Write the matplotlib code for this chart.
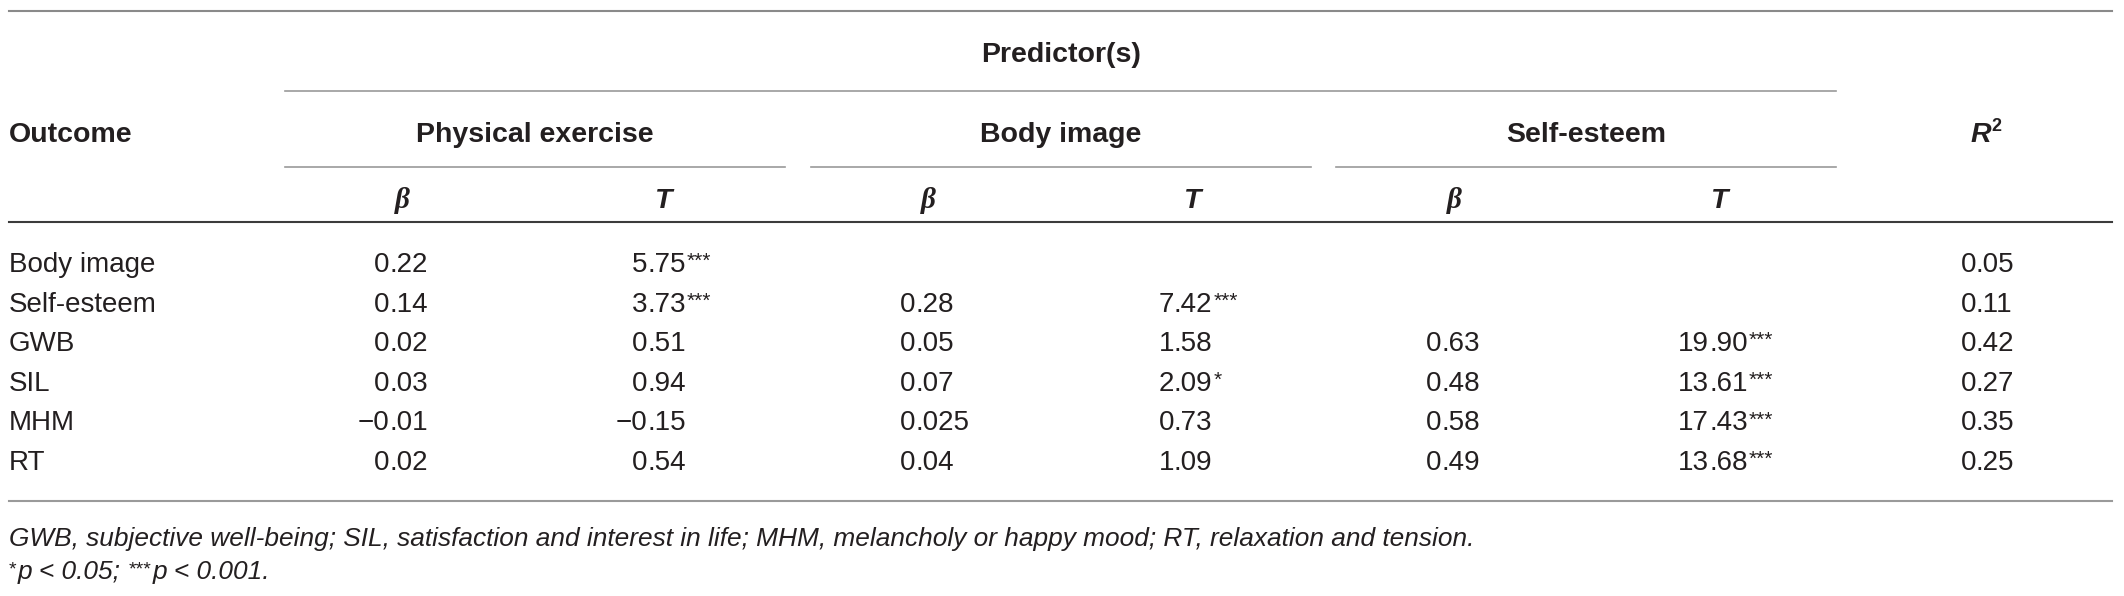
import matplotlib
matplotlib.use("Agg")
import matplotlib.pyplot as plt

# table contents
outcomes = ["Body image", "Self-esteem", "GWB", "SIL", "MHM", "RT"]
groups = ["Physical exercise", "Body image", "Self-esteem"]

pe_beta = [0.22, 0.14, 0.02, 0.03, -0.01, 0.02]
pe_t = [5.75, 3.73, 0.51, 0.94, -0.15, 0.54]
pe_t_sig = ["***", "***", "", "", "", ""]

bi_beta = [None, 0.28, 0.05, 0.07, 0.025, 0.04]
bi_t = [None, 7.42, 1.58, 2.09, 0.73, 1.09]
bi_t_sig = ["", "***", "", "*", "", ""]

se_beta = [None, None, 0.63, 0.48, 0.58, 0.49]
se_t = [None, None, 19.90, 13.61, 17.43, 13.68]
se_t_sig = ["", "", "***", "***", "***", "***"]

r2 = [0.05, 0.11, 0.42, 0.27, 0.35, 0.25]

note1 = ("GWB, subjective well-being; SIL, satisfaction and interest in life; "
         "MHM, melancholy or happy mood; RT, relaxation and tension.")

INK = "#231f20"
SANS = "Liberation Sans"
W, H = 2124, 596

fig = plt.figure(figsize=(W / 100, H / 100), dpi=100)
ax = fig.add_axes([0, 0, 1, 1])
ax.set_xlim(0, W)
ax.set_ylim(H, 0)
ax.axis("off")
rend = fig.canvas.get_renderer()


def width(t):
    return t.get_window_extent(renderer=rend).width


def fmt(v):
    if abs(v * 100 - round(v * 100)) > 1e-9:
        s = f"{abs(v):.3f}"
    else:
        s = f"{abs(v):.2f}"
    return ("\u2212" if v < 0 else "") + s


def cell(xdec, y, v, sig=""):
    # decimal aligned number with superscript stars
    if v is None:
        return
    s = fmt(v)
    ip, fp = s.split(".")
    ax.text(xdec, y, ip, ha="right", va="baseline", fontsize=20,
            family=SANS, color=INK)
    t = ax.text(xdec, y, "." + fp, ha="left", va="baseline", fontsize=20,
                family=SANS, color=INK)
    if sig:
        ax.text(xdec + width(t) + 1, y - 5, sig, ha="left", va="baseline",
                fontsize=15, family=SANS, color=INK)


# rules
ax.plot([9, 2112], [11, 11], color="#8a8a8a", lw=1.5)
ax.plot([285, 1836], [91, 91], color="#9a9a9a", lw=1.2)
for x0 in [285, 811, 1336]:
    ax.plot([x0, x0 + 500], [167, 167], color="#9a9a9a", lw=1.2)
ax.plot([9, 2112], [222, 222], color="#3c3c3c", lw=1.5)
ax.plot([9, 2112], [501, 501], color="#9a9a9a", lw=1.5)

# header
hd = dict(va="baseline", fontsize=20.5, family=SANS, weight="bold", color=INK)
ax.text(1061, 62, "Predictor(s)", ha="center", **hd)
ax.text(9, 142, "Outcome", ha="left", **hd)
for x0, g in zip([285, 811, 1336], groups):
    ax.text(x0 + 250, 142, g, ha="center", **hd)
ax.text(1991, 142, "R", ha="right", va="baseline", fontsize=20.5, family=SANS,
        weight="bold", style="italic", color=INK)
ax.text(1991, 131, "2", ha="left", va="baseline", fontsize=13, family=SANS,
        weight="bold", color=INK)

beta_x = [402, 928, 1454]
t_x = [664, 1193, 1720]
for bx, tx in zip(beta_x, t_x):
    ax.text(bx, 208, "\u03b2", ha="center", va="baseline", fontsize=21,
            family="Liberation Serif", weight="bold", style="italic", color=INK)
    ax.text(tx, 208, "T", ha="center", va="baseline", fontsize=20.5,
            family=SANS, weight="bold", style="italic", color=INK)

# body rows
dec_x = [389, 647, 915, 1174, 1441, 1709, 1976]
for i, name in enumerate(outcomes):
    y = 272 + i * 39.6
    ax.text(9, y, name, ha="left", va="baseline", fontsize=20, family=SANS,
            color=INK)
    cell(dec_x[0], y, pe_beta[i])
    cell(dec_x[1], y, pe_t[i], pe_t_sig[i])
    cell(dec_x[2], y, bi_beta[i])
    cell(dec_x[3], y, bi_t[i], bi_t_sig[i])
    cell(dec_x[4], y, se_beta[i])
    cell(dec_x[5], y, se_t[i], se_t_sig[i])
    cell(dec_x[6], y, r2[i])

# notes
ax.text(9, 546, note1, ha="left", va="baseline", fontsize=18.9, family=SANS,
        style="italic", color=INK)
x = 9
for piece, sup in [("*", True), ("p < 0.05; ", False), ("***", True),
                   ("p < 0.001.", False)]:
    if sup:
        t = ax.text(x, 574, piece, ha="left", va="baseline", fontsize=14,
                    family=SANS, color=INK)
    else:
        t = ax.text(x, 579, piece, ha="left", va="baseline", fontsize=18.9,
                    family=SANS, style="italic", color=INK)
    x += width(t) + 1

fig.savefig("out.png", dpi=100)
